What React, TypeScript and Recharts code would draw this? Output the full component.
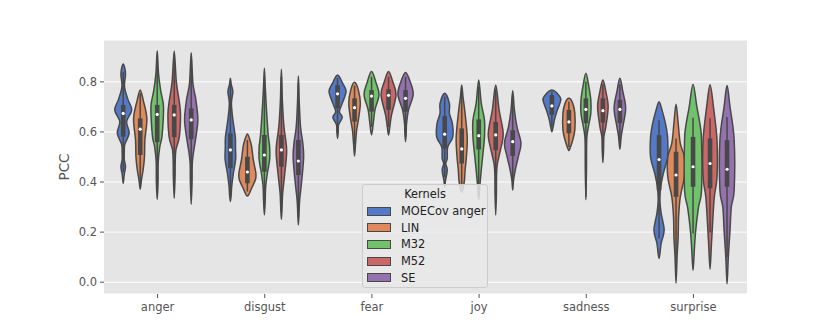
import { Bar, CartesianGrid, ComposedChart, XAxis, YAxis } from "recharts";

// categories and series
const emotions = ["anger", "disgust", "fear", "joy", "sadness", "surprise"];
const kernels = ["MOECov anger", "LIN", "M32", "M52", "SE"];
const kernelColors = ["#5479c6", "#de8a5c", "#70c26b", "#ca6868", "#9472ae"];
const yTicks = [0, 0.2, 0.4, 0.6, 0.8];

type Pair = [number, number];

// KDE profile per violin: [PCC, relative density], from low to high PCC
const moecDensity: Pair[][] = [
  [[0.395, 0], [0.43, 0.12], [0.462, 0.27], [0.49, 0.12], [0.52, 0.13], [0.55, 0.18], [0.595, 0.7], [0.641, 0.4], [0.688, 1.0], [0.73, 0.55], [0.781, 0.15], [0.834, 0.27], [0.871, 0]],
  [[0.322, 0], [0.35, 0.1], [0.38, 0.15], [0.435, 0.35], [0.49, 0.62], [0.54, 0.6], [0.58, 0.58], [0.647, 0.3], [0.714, 0.12], [0.761, 0.29], [0.79, 0.1], [0.814, 0]],
  [[0.574, 0], [0.6, 0.08], [0.628, 0.12], [0.658, 0.55], [0.681, 0.22], [0.714, 0.55], [0.761, 1.0], [0.794, 0.6], [0.827, 0]],
  [[0.38, 0], [0.408, 0.1], [0.448, 0.3], [0.474, 0.12], [0.494, 0.3], [0.54, 0.35], [0.58, 0.95], [0.634, 0.9], [0.674, 0.55], [0.714, 0.55], [0.754, 0]],
  [[0.601, 0], [0.621, 0.15], [0.648, 0.3], [0.688, 0.65], [0.721, 1.0], [0.74, 0.95], [0.767, 0]],
  [[0.095, 0], [0.155, 0.25], [0.208, 0.6], [0.275, 0.25], [0.328, 0.1], [0.381, 0.2], [0.434, 0.5], [0.5, 1.0], [0.58, 1.0], [0.634, 0.75], [0.687, 0.35], [0.72, 0]],
];
const linDensity: Pair[][] = [
  [[0.371, 0], [0.41, 0.15], [0.45, 0.35], [0.5, 0.5], [0.568, 0.55], [0.654, 0.78], [0.727, 0.35], [0.767, 0]],
  [[0.344, 0], [0.375, 0.5], [0.41, 0.95], [0.435, 1.0], [0.488, 0.7], [0.541, 0.5], [0.568, 0.3], [0.592, 0]],
  [[0.504, 0], [0.555, 0.12], [0.608, 0.25], [0.648, 0.45], [0.714, 0.68], [0.767, 0.45], [0.798, 0]],
  [[0.36, 0], [0.4, 0.3], [0.448, 0.4], [0.5, 0.55], [0.58, 0.65], [0.687, 0.35], [0.74, 0.15], [0.787, 0]],
  [[0.526, 0], [0.541, 0.2], [0.568, 0.45], [0.608, 0.7], [0.674, 0.7], [0.714, 0.45], [0.734, 0]],
  [[-0.004, 0], [0.102, 0.12], [0.182, 0.25], [0.261, 0.3], [0.341, 0.5], [0.42, 0.97], [0.5, 0.97], [0.554, 0.5], [0.634, 0.25], [0.711, 0]],
];
const m32Density: Pair[][] = [
  [[0.331, 0], [0.4, 0.1], [0.48, 0.12], [0.54, 0.3], [0.58, 0.55], [0.66, 0.72], [0.71, 0.72], [0.767, 0.4], [0.834, 0.15], [0.924, 0]],
  [[0.268, 0], [0.33, 0.1], [0.38, 0.15], [0.435, 0.35], [0.49, 0.62], [0.54, 0.62], [0.588, 0.45], [0.687, 0.25], [0.78, 0.1], [0.854, 0]],
  [[0.588, 0], [0.634, 0.2], [0.688, 0.4], [0.748, 0.88], [0.794, 0.55], [0.841, 0]],
  [[0.33, 0], [0.38, 0.12], [0.448, 0.3], [0.514, 0.5], [0.58, 0.68], [0.647, 0.68], [0.714, 0.3], [0.807, 0]],
  [[0.329, 0], [0.45, 0.07], [0.54, 0.08], [0.581, 0.12], [0.621, 0.3], [0.674, 0.58], [0.727, 0.58], [0.781, 0.35], [0.834, 0]],
  [[0.047, 0], [0.128, 0.15], [0.182, 0.25], [0.235, 0.4], [0.301, 0.65], [0.368, 1.0], [0.567, 1.0], [0.634, 0.8], [0.7, 0.45], [0.79, 0]],
];
const m52Density: Pair[][] = [
  [[0.335, 0], [0.42, 0.1], [0.48, 0.12], [0.528, 0.2], [0.58, 0.6], [0.668, 0.74], [0.72, 0.6], [0.8, 0.25], [0.923, 0]],
  [[0.251, 0], [0.3, 0.08], [0.355, 0.15], [0.435, 0.4], [0.528, 0.62], [0.621, 0.3], [0.72, 0.12], [0.85, 0]],
  [[0.588, 0], [0.621, 0.15], [0.668, 0.35], [0.748, 0.88], [0.8, 0.5], [0.841, 0]],
  [[0.268, 0], [0.35, 0.08], [0.43, 0.1], [0.474, 0.2], [0.527, 0.55], [0.594, 0.88], [0.687, 0.4], [0.787, 0]],
  [[0.478, 0], [0.53, 0.08], [0.581, 0.12], [0.621, 0.35], [0.701, 0.62], [0.761, 0.35], [0.807, 0]],
  [[0.052, 0], [0.142, 0.15], [0.235, 0.3], [0.341, 0.5], [0.42, 0.82], [0.567, 0.82], [0.7, 0.4], [0.788, 0]],
];
const seDensity: Pair[][] = [
  [[0.311, 0], [0.4, 0.1], [0.47, 0.12], [0.515, 0.25], [0.568, 0.5], [0.648, 0.78], [0.728, 0.55], [0.794, 0.2], [0.916, 0]],
  [[0.229, 0], [0.28, 0.08], [0.328, 0.15], [0.408, 0.4], [0.5, 0.62], [0.56, 0.5], [0.621, 0.25], [0.72, 0.1], [0.823, 0]],
  [[0.561, 0], [0.6, 0.08], [0.634, 0.12], [0.688, 0.35], [0.75, 0.9], [0.8, 0.55], [0.837, 0]],
  [[0.368, 0], [0.408, 0.1], [0.448, 0.3], [0.5, 0.65], [0.555, 0.97], [0.62, 0.5], [0.687, 0.2], [0.764, 0]],
  [[0.531, 0], [0.581, 0.15], [0.621, 0.35], [0.695, 0.68], [0.761, 0.35], [0.814, 0]],
  [[-0.006, 0], [0.102, 0.15], [0.208, 0.35], [0.301, 0.5], [0.368, 0.84], [0.567, 0.84], [0.7, 0.35], [0.785, 0]],
];

// inner box: [whisker low, q1, median, q3, whisker high]
const moecBox = [
  [0.44, 0.581, 0.674, 0.708, 0.84],
  [0.355, 0.455, 0.528, 0.594, 0.794],
  [0.61, 0.694, 0.752, 0.787, 0.815],
  [0.42, 0.534, 0.591, 0.663, 0.74],
  [0.62, 0.668, 0.704, 0.747, 0.76],
  [0.175, 0.368, 0.49, 0.587, 0.647],
];
const linBox = [
  [0.382, 0.508, 0.611, 0.654, 0.754],
  [0.362, 0.395, 0.44, 0.501, 0.568],
  [0.55, 0.641, 0.697, 0.734, 0.785],
  [0.38, 0.474, 0.532, 0.614, 0.77],
  [0.54, 0.595, 0.64, 0.688, 0.72],
  [0.07, 0.341, 0.428, 0.521, 0.574],
];
const m32Box = [
  [0.368, 0.559, 0.67, 0.708, 0.887],
  [0.3, 0.441, 0.508, 0.588, 0.82],
  [0.62, 0.681, 0.743, 0.767, 0.82],
  [0.36, 0.53, 0.585, 0.65, 0.78],
  [0.34, 0.635, 0.69, 0.734, 0.8],
  [0.195, 0.381, 0.461, 0.58, 0.657],
];
const m52Box = [
  [0.37, 0.579, 0.668, 0.708, 0.887],
  [0.28, 0.461, 0.528, 0.588, 0.82],
  [0.62, 0.688, 0.746, 0.77, 0.82],
  [0.4, 0.527, 0.588, 0.64, 0.77],
  [0.5, 0.637, 0.685, 0.734, 0.79],
  [0.2, 0.375, 0.474, 0.574, 0.655],
];
const seBox = [
  [0.35, 0.571, 0.648, 0.694, 0.874],
  [0.26, 0.428, 0.484, 0.568, 0.794],
  [0.58, 0.681, 0.734, 0.767, 0.82],
  [0.4, 0.504, 0.561, 0.607, 0.74],
  [0.55, 0.635, 0.69, 0.728, 0.79],
  [0.1, 0.381, 0.451, 0.567, 0.66],
];

const densities = [moecDensity, linDensity, m32Density, m52Density, seDensity];
const boxes = [moecBox, linBox, m32Box, m52Box, seBox];

const rows = emotions.map((emotion, i) => {
  const row: Record<string, unknown> = { emotion, idx: i };
  densities.forEach((d, k) => {
    const prof = d[i];
    row[`k${k}`] = [prof[0][0], prof[prof.length - 1][0]];
  });
  return row;
});

const EDGE = "#484848";

function closedCurve(pts: number[][]) {
  const n = pts.length;
  let d = `M${pts[0][0]},${pts[0][1]}`;
  for (let i = 0; i < n; i++) {
    const p0 = pts[(i - 1 + n) % n];
    const p1 = pts[i];
    const p2 = pts[(i + 1) % n];
    const p3 = pts[(i + 2) % n];
    const c1x = p1[0] + (p2[0] - p0[0]) / 6;
    const c1y = p1[1] + (p2[1] - p0[1]) / 6;
    const c2x = p2[0] - (p3[0] - p1[0]) / 6;
    const c2y = p2[1] - (p3[1] - p1[1]) / 6;
    d += `C${c1x},${c1y} ${c2x},${c2y} ${p2[0]},${p2[1]}`;
  }
  return d + "Z";
}

function Violin(props: any) {
  const { x, y, width, height, payload, k } = props;
  if (x == null || y == null || !payload) return null;
  const prof: Pair[] = densities[k][payload.idx];
  const [wLo, q1, med, q3, wHi] = boxes[k][payload.idx];
  const lo = prof[0][0];
  const hi = prof[prof.length - 1][0];
  const top = Math.min(y, y + height);
  const bot = Math.max(y, y + height);
  const py = (v: number) => top + ((hi - v) / (hi - lo)) * (bot - top);
  const cx = x + width / 2;
  const hw = width / 2;
  const inner = prof.slice(1, -1);
  const right = [...inner].reverse().map(([v, d]) => [cx + d * hw, py(v)]);
  const left = inner.map(([v, d]) => [cx - d * hw, py(v)]);
  const loop = [[cx, py(hi)], ...right, [cx, py(lo)], ...left];
  return (
    <g>
      <path d={closedCurve(loop)} fill={kernelColors[k]} stroke={EDGE} strokeWidth={1.5} strokeLinejoin="round" />
      <line x1={cx} x2={cx} y1={py(wHi)} y2={py(wLo)} stroke={EDGE} strokeWidth={1.5} />
      <rect x={cx - 2.3} width={4.6} y={py(q3)} height={py(q1) - py(q3)} fill={EDGE} />
      <circle cx={cx} cy={py(med)} r={1.6} fill="#ffffff" />
    </g>
  );
}

function KernelLegend() {
  return (
    <div
      style={{
        position: "absolute",
        left: 354,
        top: 176,
        width: 126,
        height: 104,
        boxSizing: "border-box",
        background: "rgba(233,233,233,0.85)",
        border: "1px solid #cccccc",
        borderRadius: 3,
        fontFamily: "DejaVu Sans",
        fontSize: 11.4,
        color: "#222222",
      }}
    >
      <div style={{ height: 18, lineHeight: "18px", textAlign: "center" }}>Kernels</div>
      {kernels.map((name, k) => (
        <div key={name} style={{ height: 16.6, display: "flex", alignItems: "center" }}>
          <span
            style={{
              display: "inline-block",
              marginLeft: 4,
              width: 22,
              height: 7,
              background: kernelColors[k],
              border: `1px solid ${EDGE}`,
            }}
          />
          <span style={{ marginLeft: 10, whiteSpace: "nowrap" }}>{name}</span>
        </div>
      ))}
    </div>
  );
}

export default function App() {
  return (
    <div style={{ position: "relative", width: 822, height: 324, fontFamily: "DejaVu Sans" }}>
      <ComposedChart
        width={822}
        height={324}
        data={rows}
        margin={{ top: 32, right: 83, bottom: 18, left: 36 }}
        barCategoryGap="10%"
        barGap={0}
      >
        <CartesianGrid vertical={false} stroke="#ffffff" strokeWidth={1} fill="#e5e5e5" />
        <XAxis
          dataKey="emotion"
          axisLine={false}
          tickSize={4}
          tickMargin={5}
          tickLine={{ stroke: "#555555" }}
          tick={{ fontSize: 11.5, fill: "#555555" }}
          height={20}
        />
        <YAxis
          type="number"
          domain={[-0.047, 0.967]}
          allowDataOverflow
          ticks={yTicks}
          tickFormatter={(v: number) => v.toFixed(1)}
          axisLine={false}
          tickSize={4}
          tickMargin={3}
          tickLine={{ stroke: "#555555" }}
          tick={{ fontSize: 11.5, fill: "#555555" }}
          width={60}
          label={{
            content: (p: any) => {
              const vb = p.viewBox || {};
              const lx = (vb.x ?? 36) + 21;
              const ly = (vb.y ?? 32) + (vb.height ?? 254) / 2;
              return (
                <text
                  x={lx}
                  y={ly}
                  transform={`rotate(-90 ${lx} ${ly})`}
                  textAnchor="middle"
                  dominantBaseline="middle"
                  fontSize={13.5}
                  fill="#555555"
                >
                  PCC
                </text>
              );
            },
          }}
        />
        {kernels.map((name, k) => (
          <Bar
            key={name}
            name={name}
            dataKey={`k${k}`}
            isAnimationActive={false}
            shape={(p: any) => <Violin {...p} k={k} />}
          />
        ))}
      </ComposedChart>
      <KernelLegend />
    </div>
  );
}
